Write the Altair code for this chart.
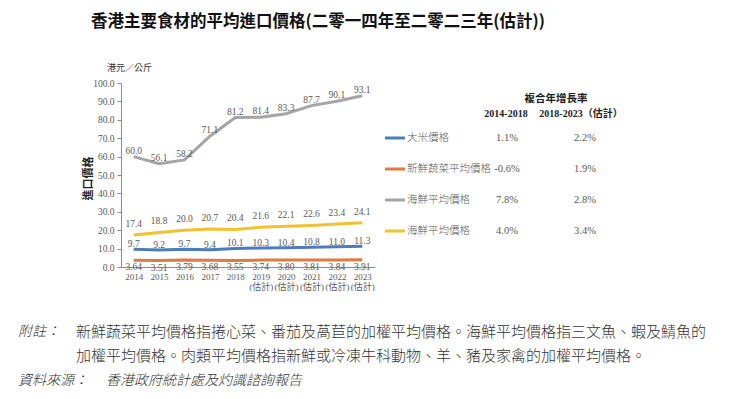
import altair as alt
import pandas as pd

years = ["2014", "2015", "2016", "2017", "2018", "2019", "2020", "2021", "2022", "2023"]
rice = [9.7, 9.2, 9.7, 9.4, 10.1, 10.3, 10.4, 10.8, 11.0, 11.3]
veg = [3.64, 3.51, 3.79, 3.68, 3.55, 3.74, 3.80, 3.81, 3.84, 3.91]
seafood = [60.0, 56.1, 58.2, 71.1, 81.2, 81.4, 83.3, 87.7, 90.1, 93.1]
meat = [17.4, 18.8, 20.0, 20.7, 20.4, 21.6, 22.1, 22.6, 23.4, 24.1]

series_ids = ["rice", "veg", "seafood", "meat"]
series_names = ["大米價格", "新鮮蔬菜平均價格", "海鮮平均價格", "海鮮平均價格"]
series_colors = ["#4A7EBB", "#E07A3F", "#A5A5A5", "#F2C12E"]
cagr_2014_2018 = ["1.1%", "-0.6%", "7.8%", "4.0%"]
cagr_2018_2023 = ["2.2%", "1.9%", "2.8%", "3.4%"]

title_text = "香港主要食材的平均進口價格(二零一四年至二零二三年(估計))"
unit_text = "港元／公斤"
y_title = "進口價格"
legend_header = "複合年增長率"
col_headers = ["2014-2018", "2018-2023（估計）"]
note_label = "附註："
note_lines = [
    "新鮮蔬菜平均價格指捲心菜、番茄及萵苣的加權平均價格。海鮮平均價格指三文魚、蝦及鯖魚的",
    "加權平均價格。肉類平均價格指新鮮或冷凍牛科動物、羊、豬及家禽的加權平均價格。",
]
source_label = "資料來源："
source_text = "香港政府統計處及灼識諮詢報告"

values = {"rice": rice, "veg": veg, "seafood": seafood, "meat": meat}
rows = []
for sid in series_ids:
    for y, v in zip(years, values[sid]):
        lab = f"{v:.2f}" if sid == "veg" else f"{v:.1f}"
        rows.append({"year": y, "series": sid, "value": v, "label": lab})
df = pd.DataFrame(rows)

NUM_FONT = "Liberation Serif, Noto Sans CJK TC"
CJK_FONT = "Noto Sans CJK TC"
GRAY_TXT = "#595959"

W, H = 254, 184

x_scale = alt.Scale(type="point", padding=0.5, domain=years)
y_scale = alt.Scale(domain=[0, 100], nice=False)

x_axis = alt.Axis(
    title=None, labelAngle=0, ticks=False, domainColor="#8c8c8c",
    labelFont=NUM_FONT, labelFontSize=9, labelColor=GRAY_TXT,
    labelPadding=5, labelLineHeight=10, labelBaseline="top", labelOverlap=False,
    labelExpr="toNumber(datum.value) >= 2019 ? [datum.value, '(估計)'] : datum.value",
)
y_axis = alt.Axis(
    title=y_title, values=list(range(0, 101, 10)), format=".1f",
    labelOverlap=False, labelBound=False, labelFlush=False,
    grid=False, tickSize=4, tickColor="#8c8c8c", domainColor="#8c8c8c",
    labelFont=NUM_FONT, labelFontSize=9.5, labelColor=GRAY_TXT, labelPadding=3,
    titleFont=CJK_FONT, titleFontSize=11, titleFontWeight="bold", titleColor="#222222",
    titleX=-33, titleY=95, titleAngle=270, titleAlign="center", titleBaseline="middle",
)


def xe():
    return alt.X("year:O", scale=x_scale, axis=x_axis)


def ye():
    return alt.Y("value:Q", scale=y_scale, axis=y_axis)


base = alt.Chart(df)
lines = base.mark_line(strokeWidth=3).encode(
    x=xe(),
    y=ye(),
    color=alt.Color("series:N", scale=alt.Scale(domain=series_ids, range=series_colors), legend=None),
    order=alt.Order("year:O"),
)

layers = [lines]
offsets = {"rice": -5, "veg": 7, "seafood": -6, "meat": -11}
for sid in series_ids:
    layers.append(
        base.transform_filter(alt.datum.series == sid)
        .mark_text(font=NUM_FONT, fontSize=9.5, color=GRAY_TXT, dy=offsets[sid])
        .encode(x=xe(), y=ye(), text="label:N")
    )


def note(text, x, y, size, weight="normal", style="normal", align="left", color="#222222", font=CJK_FONT):
    return alt.Chart(pd.DataFrame({"t": [text]})).mark_text(
        font=font, fontSize=size, fontWeight=weight, fontStyle=style,
        align=align, baseline="middle", color=color,
    ).encode(x=alt.value(x), y=alt.value(y), text="t:N")


layers.append(note(title_text, 197, -61, 16.5, weight="bold", align="center", color="#111111"))
layers.append(note(unit_text, -14, -15, 9, color="#333333"))

# legend table
layers.append(note(legend_header, 435, 16, 10.5, weight="bold", align="center"))
layers.append(note(col_headers[0], 385, 31, 10, weight="bold", align="center", font=NUM_FONT))
layers.append(note(col_headers[1], 460, 31, 10, weight="bold", align="center", font=NUM_FONT))
for i in range(len(series_ids)):
    yy = 55 + i * 31
    layers.append(
        alt.Chart(pd.DataFrame({"c": [series_colors[i]]})).mark_rule(strokeWidth=3, color=series_colors[i])
        .encode(x=alt.value(264), x2=alt.value(284), y=alt.value(yy))
    )
    layers.append(note(series_names[i], 286, yy, 10.5, color=GRAY_TXT, weight=300))
    layers.append(note(cagr_2014_2018[i], 386, yy, 10.5, align="center", color=GRAY_TXT, font=NUM_FONT))
    layers.append(note(cagr_2018_2023[i], 464, yy, 10.5, align="center", color=GRAY_TXT, font=NUM_FONT))

# footnotes
layers.append(note(note_label, -103, 249, 14, style="italic", color="#333333", weight=300))
layers.append(note(note_lines[0], -45, 249, 15, color="#333333", weight=300))
layers.append(note(note_lines[1], -45, 273, 15, color="#333333", weight=300))
layers.append(note(source_label, -103, 298, 14, style="italic", color="#333333", weight=300))
layers.append(note(source_text, -15, 298, 14, style="italic", color="#333333", weight=300))

chart = alt.layer(*layers).properties(
    width=W, height=H,
    autosize=alt.AutoSizeParams(type="none"),
    padding={"left": 113, "top": 75, "right": 716 - 113 - W, "bottom": 383 - 75 - H},
).configure_view(stroke=None)

chart.save("out.html", embed_options={"renderer": "svg", "actions": False})
